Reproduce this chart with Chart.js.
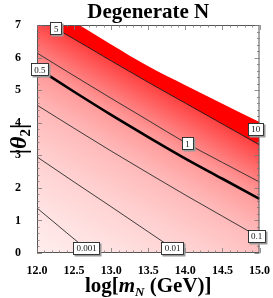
<!DOCTYPE html>
<html><head><meta charset="utf-8">
<script src="https://cdn.jsdelivr.net/npm/chart.js@4.4.1/dist/chart.umd.min.js"></script>
<style>html,body{margin:0;padding:0;background:#fff;}canvas{display:block;}</style>
</head><body>
<canvas id="c" width="273" height="298"></canvas>
<script>
// ---- data ----
const xGrid = [12.0, 12.5, 13.0, 13.5, 14.0, 14.5, 15.0];
const c10   = [7.83, 7.10, 6.40, 5.73, 5.15, 4.58, 4.02];
const c5    = [7.22, 6.57, 5.90, 5.24, 4.60, 3.96, 3.32];
const c1    = [6.14, 5.44, 4.75, 4.07, 3.39, 2.78, 2.18];
const c05   = [5.68, 4.95, 4.24, 3.56, 2.90, 2.28, 1.66];
const c01   = [4.54, 3.83, 3.13, 2.45, 1.78, 1.13, 0.48];
const c001  = [2.95, 2.18, 1.42, 0.65, -0.12];
const c0001 = [1.38, 0.43, -0.50];

const labelTexts = ['5', '10', '1', '0.5', '0.1', '0.01', '0.001'];
const labelX     = [12.26, 14.95, 14.03, 12.04, 14.96, 13.83, 12.67];
const labelY     = [6.88, 3.80, 3.35, 5.62, 0.52, 0.14, 0.14];

const xTickValues = [12.0, 12.5, 13.0, 13.5, 14.0, 14.5, 15.0];
const yTickValues = [0, 1, 2, 3, 4, 5, 6, 7];

const SERIF = '"Liberation Serif", "Times New Roman", serif';

function pts(arr) { return arr.map((y, i) => ({ x: xGrid[i], y })); }

let gradCache = null;
function bandGradient(ctx) {
  const chart = ctx.chart;
  const a = chart.chartArea;
  if (!a) return 'rgba(255,180,180,1)';
  const key = a.left + ',' + a.bottom;
  if (gradCache && gradCache.key === key) return gradCache.g;
  const dx = 0.495, dy = -0.869, L = 205;
  const g = chart.ctx.createLinearGradient(a.left, a.bottom, a.left + dx * L, a.bottom + dy * L);
  g.addColorStop(0.00, 'rgb(255,237,237)');
  g.addColorStop(0.19, 'rgb(255,226,226)');
  g.addColorStop(0.41, 'rgb(255,208,208)');
  g.addColorStop(0.62, 'rgb(255,184,184)');
  g.addColorStop(0.78, 'rgb(255,152,152)');
  g.addColorStop(0.85, 'rgb(255,125,125)');
  g.addColorStop(1.00, 'rgb(255,62,62)');
  gradCache = { key, g };
  return g;
}

const thin = { borderColor: '#2a2a2a', borderWidth: 0.9, pointRadius: 0, fill: false, clip: 0, cubicInterpolationMode: 'monotone' };

const decor = {
  id: 'decor',
  afterDraw(chart) {
    const c = chart.ctx, a = chart.chartArea;
    const xs = chart.scales.x, ys = chart.scales.y;
    c.save();
    // frame
    c.strokeStyle = '#555';
    c.lineWidth = 1;
    c.strokeRect(a.left + 0.5, a.top + 0.5, a.right - a.left - 1, a.bottom - a.top - 1);
    // ticks, inward on all four sides
    c.strokeStyle = '#777';
    c.lineWidth = 0.8;
    c.beginPath();
    for (let i = 0; i <= 30; i++) {
      const v = 12 + i * 0.1;
      const p = Math.round(xs.getPixelForValue(v)) + 0.5;
      const len = (i % 5 === 0) ? 5 : 2.5;
      c.moveTo(p, a.bottom); c.lineTo(p, a.bottom - len);
      c.moveTo(p, a.top); c.lineTo(p, a.top + len);
    }
    for (let i = 0; i <= 35; i++) {
      const v = i * 0.2;
      const p = Math.round(ys.getPixelForValue(v)) + 0.5;
      const len = (i % 5 === 0) ? 5 : 2.5;
      c.moveTo(a.left, p); c.lineTo(a.left + len, p);
      c.moveTo(a.right, p); c.lineTo(a.right - len, p);
    }
    c.stroke();

    // contour labels
    c.font = '9px ' + SERIF;
    c.textAlign = 'center';
    c.textBaseline = 'middle';
    labelTexts.forEach((t, i) => {
      const px = xs.getPixelForValue(labelX[i]);
      const py = ys.getPixelForValue(labelY[i]);
      const w = Math.round(c.measureText(t).width + 7);
      const h = 13;
      const x0 = Math.round(px - w / 2), y0 = Math.round(py - h / 2);
      c.fillStyle = '#9a9a9a';
      c.fillRect(x0 + 1.5, y0 + 1.5, w, h);
      c.fillStyle = '#fff';
      c.fillRect(x0, y0, w, h);
      c.strokeStyle = '#222';
      c.lineWidth = 0.9;
      c.strokeRect(x0 + 0.5, y0 + 0.5, w - 1, h - 1);
      c.fillStyle = '#111';
      c.fillText(t, px, py + 0.5);
    });

    // title
    c.fillStyle = '#000';
    c.textAlign = 'center';
    c.textBaseline = 'alphabetic';
    c.font = 'bold 21px ' + SERIF;
    c.fillText('Degenerate N', (a.left + a.right) / 2, 18);

    // x-axis title: log[m_N (GeV)]
    const parts = [
      { t: 'log[', f: 'bold 21px ' + SERIF, dy: 0 },
      { t: 'm', f: 'italic bold 21px ' + SERIF, dy: 0 },
      { t: 'N', f: 'italic bold 13px ' + SERIF, dy: 4 },
      { t: ' (GeV)]', f: 'bold 21px ' + SERIF, dy: 0 }
    ];
    let tw = 0;
    parts.forEach(p => { c.font = p.f; p.w = c.measureText(p.t).width; tw += p.w; });
    let cx = (a.left + a.right) / 2 - tw / 2;
    c.textAlign = 'left';
    parts.forEach(p => { c.font = p.f; c.fillText(p.t, cx, 292 + p.dy); cx += p.w; });

    // y-axis title: |θ2|
    c.save();
    c.translate(19, (a.top + a.bottom) / 2);
    c.rotate(-Math.PI / 2);
    const yparts = [
      { t: '|', f: 'bold 24px ' + SERIF, dy: 0 },
      { t: 'θ', f: 'italic bold 24px ' + SERIF, dy: 0 },
      { t: '2', f: 'bold 15px ' + SERIF, dy: 4 },
      { t: '|', f: 'bold 24px ' + SERIF, dy: 0 }
    ];
    tw = 0;
    yparts.forEach(p => { c.font = p.f; p.w = c.measureText(p.t).width; tw += p.w; });
    cx = -tw / 2;
    yparts.forEach(p => { c.font = p.f; c.fillText(p.t, cx, 7 + p.dy); cx += p.w; });
    c.restore();

    c.restore();
  }
};

new Chart(document.getElementById('c'), {
  type: 'line',
  data: {
    datasets: [
      { data: pts(c5), borderColor: '#111', borderWidth: 0.9, pointRadius: 0, clip: 0, cubicInterpolationMode: 'monotone',
        fill: 'start', backgroundColor: bandGradient },
      { data: pts(c10), borderWidth: 0, borderColor: 'rgba(0,0,0,0)', pointRadius: 0, clip: 0, cubicInterpolationMode: 'monotone',
        fill: '-1', backgroundColor: 'rgb(255,0,0)' },
      Object.assign({ data: pts(c1) }, thin),
      { data: pts(c05), borderColor: '#000', borderWidth: 2.6, pointRadius: 0, fill: false, clip: 0, cubicInterpolationMode: 'monotone' },
      Object.assign({ data: pts(c01) }, thin),
      Object.assign({ data: pts(c001) }, thin),
      Object.assign({ data: pts(c0001) }, thin)
    ]
  },
  options: {
    responsive: false,
    animation: false,
    devicePixelRatio: 1,
    layout: { padding: { top: 25, right: 8, left: 0, bottom: 0 } },
    plugins: { legend: { display: false }, tooltip: { enabled: false }, title: { display: false },
               filler: { drawTime: 'beforeDatasetsDraw' } },
    scales: {
      x: {
        type: 'linear', min: 12, max: 15,
        afterBuildTicks: s => { s.ticks = xTickValues.map(v => ({ value: v })); },
        afterFit: s => { s.height = 45; },
        grid: { display: false }, border: { display: false },
        ticks: { padding: 3, color: '#000', font: { family: SERIF, size: 12, weight: 'bold' },
                 maxRotation: 0, autoSkip: false, callback: v => Number(v).toFixed(1) }
      },
      y: {
        type: 'linear', min: 0, max: 7,
        afterBuildTicks: s => { s.ticks = yTickValues.map(v => ({ value: v })); },
        afterFit: s => { s.width = 37; },
        grid: { display: false }, border: { display: false },
        ticks: { padding: 8, color: '#000', font: { family: SERIF, size: 12, weight: 'bold' },
                 autoSkip: false, callback: v => String(v) }
      }
    }
  },
  plugins: [decor]
});
</script>
</body></html>
